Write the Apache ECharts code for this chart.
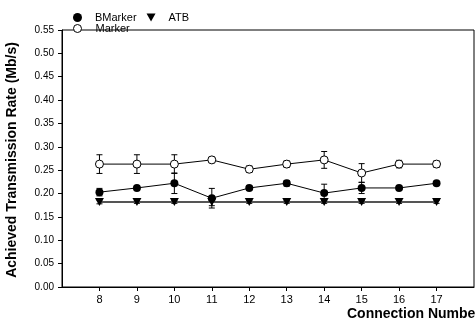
<!DOCTYPE html>
<html>
<head>
<meta charset="utf-8">
<script src="https://cdn.jsdelivr.net/npm/echarts@6/dist/echarts.min.js"></script>
<style>html,body{margin:0;padding:0;background:#fff}#c{width:476px;height:321px}</style>
</head>
<body>
<div id="c"></div>
<script>
const categories = ['8','9','10','11','12','13','14','15','16','17'];
const axisCats = ['', ...categories, ''];
const yTicks = [0,0.05,0.10,0.15,0.20,0.25,0.30,0.35,0.40,0.45,0.50,0.55];
const markerVals = [0.263,0.263,0.263,0.272,0.252,0.263,0.272,0.244,0.263,0.263];
const markerErr  = [0.020,0.020,0.020,0.006,0.007,0.007,0.018,0.020,0.008,0.007];
const bmarkerVals = [0.203,0.212,0.222,0.190,0.212,0.222,0.201,0.212,0.212,0.222];
const bmarkerErr  = [0.008,0.004,0.022,0.021,0.004,0.006,0.019,0.012,0.004,0.004];
const atbVals = [0.182,0.182,0.182,0.182,0.182,0.182,0.182,0.182,0.182,0.182];
const atbErr  = [0.004,0.003,0.003,0.008,0.003,0.003,0.003,0.003,0.003,0.003];

const font = 'Liberation Sans, Arial, sans-serif';
function pairs(v){ return categories.map((c,i)=>[c, v[i]]); }
function errData(v,e){ return categories.map((c,i)=>[c, v[i]-e[i], v[i]+e[i]]); }
function errSeries(name, v, e){
  return {
    type:'custom', name: name+'_err', data: errData(v,e), z: 1, silent:true,
    encode:{x:0,y:[1,2]},
    renderItem:function(params, api){
      const x = api.value(0);
      const lo = api.coord([x, api.value(1)]);
      const hi = api.coord([x, api.value(2)]);
      const w = 3;
      const st = {stroke:'#000', lineWidth:1};
      return {type:'group', children:[
        {type:'line', shape:{x1:lo[0],y1:lo[1],x2:hi[0],y2:hi[1]}, style:st},
        {type:'line', shape:{x1:hi[0]-w,y1:hi[1],x2:hi[0]+w,y2:hi[1]}, style:st},
        {type:'line', shape:{x1:lo[0]-w,y1:lo[1],x2:lo[0]+w,y2:lo[1]}, style:st}
      ]};
    }
  };
}
const triDown = 'path://M0,0L10,0L5,9Z';
const chart = echarts.init(document.getElementById('c'));
chart.setOption({
  animation:false,
  backgroundColor:'#fff',
  grid:{left:62, top:30, right:2, bottom:34, show:true, borderColor:'#000', borderWidth:1},
  legend:[
    {left:68, top:7, orient:'horizontal', itemGap:10, itemWidth:9, itemHeight:9, textStyle:{fontFamily:font, fontSize:11, color:'#000', padding:[0,0,0,8]},
     data:[{name:'BMarker', icon:'circle', itemStyle:{color:'#000', borderWidth:0}},
           {name:'ATB', icon:triDown, itemStyle:{color:'#000', borderWidth:0}}]},
    {left:68, top:18, itemWidth:8, itemHeight:8, textStyle:{fontFamily:font, fontSize:11, color:'#000', padding:[0,0,0,9]},
     data:[{name:'Marker', icon:'circle', itemStyle:{color:'#fff', borderColor:'#000', borderWidth:1}}]}
  ],
  xAxis:{type:'category', data:axisCats, boundaryGap:false,
    axisLine:{lineStyle:{color:'#000', width:1}},
    axisTick:{show:true, inside:false, length:4, lineStyle:{color:'#000'}, interval:function(i,v){return v!=='';}},
    axisLabel:{interval:function(i,v){return v!=='';}, color:'#000', fontFamily:font, fontSize:11, margin:7},
    splitLine:{show:false}},
  yAxis:{type:'value', min:0, max:0.55, interval:0.05,
    axisLine:{show:true, lineStyle:{color:'#000', width:1}},
    axisTick:{show:true, length:4, lineStyle:{color:'#000'}},
    axisLabel:{color:'#000', fontFamily:font, fontSize:10, margin:8, formatter:function(v){return v.toFixed(2);}},
    splitLine:{show:false}},
  graphic:[
    {type:'text', x:12, y:160, rotation:Math.PI/2,
     style:{text:'Achieved Transmission Rate (Mb/s)', fontFamily:font, fontWeight:'bold', fontSize:14, fill:'#000', align:'center', verticalAlign:'middle'}},
    {type:'text', x:347, y:314,
     style:{text:'Connection Number', fontFamily:font, fontWeight:'bold', fontSize:14, fill:'#000', align:'left', verticalAlign:'middle'}}
  ],
  series:[
    errSeries('Marker', markerVals, markerErr),
    errSeries('BMarker', bmarkerVals, bmarkerErr),
    errSeries('ATB', atbVals, atbErr),
    {name:'ATB', type:'line', data:pairs(atbVals), symbol:triDown, symbolSize:[9,8], z:3,
     lineStyle:{color:'#555', width:2}, itemStyle:{color:'#000', borderWidth:0}},
    {name:'BMarker', type:'line', data:pairs(bmarkerVals), symbol:'circle', symbolSize:8, z:4,
     lineStyle:{color:'#000', width:1}, itemStyle:{color:'#000', borderWidth:0}},
    {name:'Marker', type:'line', data:pairs(markerVals), symbol:'circle', symbolSize:8, z:5,
     lineStyle:{color:'#000', width:1}, itemStyle:{color:'#fff', borderColor:'#000', borderWidth:1}}
  ]
});
</script>
</body>
</html>
